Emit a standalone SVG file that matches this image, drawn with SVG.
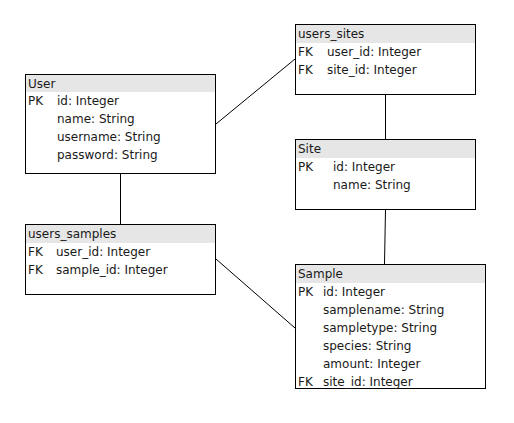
<svg xmlns="http://www.w3.org/2000/svg" width="514" height="423" viewBox="0 0 514 423">
<style>
.box{fill:#ffffff;stroke:#000000;stroke-width:1}
.hdr{fill:#e6e6e6;stroke:none}
text{font-family:"DejaVu Sans",Verdana,sans-serif;font-size:12px;fill:#1a1a1a}
.edge{stroke:#000000;stroke-width:1;fill:none}
</style>
<rect width="514" height="423" fill="#ffffff"/>
<g id="connectors">
<line class="edge" x1="216" y1="124" x2="295" y2="59"/>
<line class="edge" x1="385.5" y1="94" x2="385.5" y2="139"/>
<line class="edge" x1="120.5" y1="174" x2="120.5" y2="224"/>
<line class="edge" x1="216" y1="259" x2="295" y2="328"/>
<line class="edge" x1="385.5" y1="209" x2="384.5" y2="264"/>
</g>
<g id="User">
<rect class="box" x="25.5" y="74.5" width="190" height="99"/>
<rect class="hdr" x="26" y="75" width="189" height="17"/>
<text x="28" y="88">User</text>
<text x="28" y="105">PK</text>
<text x="57" y="105">id: Integer</text>
<text x="57" y="123">name: String</text>
<text x="57" y="141">username: String</text>
<text x="57" y="159">password: String</text>
</g>
<g id="users_sites">
<rect class="box" x="295.5" y="24.5" width="180" height="70"/>
<rect class="hdr" x="296" y="25" width="179" height="18"/>
<text x="298" y="38">users_sites</text>
<text x="298" y="56">FK</text>
<text x="327" y="56">user_id: Integer</text>
<text x="298" y="74">FK</text>
<text x="327" y="74">site_id: Integer</text>
</g>
<g id="Site">
<rect class="box" x="295.5" y="139.5" width="180" height="70"/>
<rect class="hdr" x="296" y="140" width="179" height="18"/>
<text x="298" y="153">Site</text>
<text x="298" y="171">PK</text>
<text x="333" y="171">id: Integer</text>
<text x="333" y="189">name: String</text>
</g>
<g id="users_samples">
<rect class="box" x="25.5" y="224.5" width="190" height="70"/>
<rect class="hdr" x="26" y="225" width="189" height="18"/>
<text x="28" y="238">users_samples</text>
<text x="28" y="256">FK</text>
<text x="56" y="256">user_id: Integer</text>
<text x="28" y="274">FK</text>
<text x="56" y="274">sample_id: Integer</text>
</g>
<g id="Sample">
<rect class="box" x="295.5" y="264.5" width="190" height="124"/>
<rect class="hdr" x="296" y="265" width="189" height="18"/>
<text x="298" y="278">Sample</text>
<text x="298" y="296">PK</text>
<text x="323" y="296">id: Integer</text>
<text x="323" y="314">samplename: String</text>
<text x="323" y="332">sampletype: String</text>
<text x="323" y="350">species: String</text>
<text x="323" y="368">amount: Integer</text>
<text x="298" y="386">FK</text>
<text x="323" y="386">site_id: Integer</text>
</g>
</svg>
